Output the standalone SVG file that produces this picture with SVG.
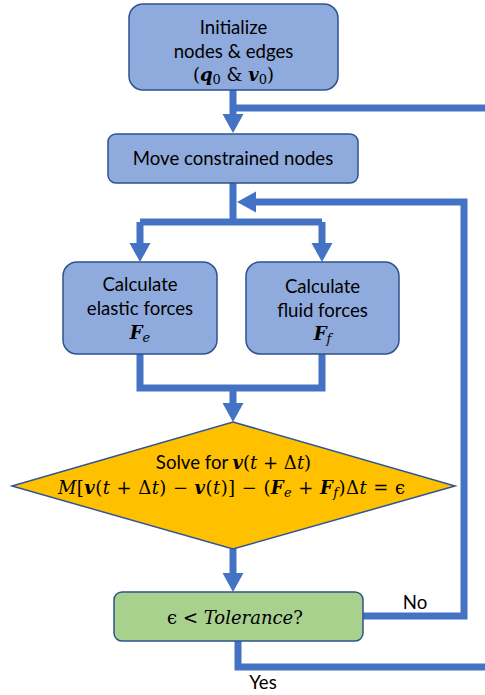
<svg xmlns="http://www.w3.org/2000/svg" width="485" height="695" viewBox="0 0 485 695">
<style>
.box{fill:#8FAADC;stroke:#2F528F;stroke-width:1.5}
.green{fill:#A9D18E;stroke:#2F528F;stroke-width:1.5}
.dia{fill:#FFC000;stroke:#2F5597;stroke-width:1.5}
.t{font-family:Lato,"Open Sans","Liberation Sans",sans-serif;font-size:18.6px;fill:#000;text-anchor:middle}
.m{font-family:"DejaVu Serif","Liberation Serif",serif;font-size:18px;fill:#000;text-anchor:middle}
.b{font-weight:bold;font-style:italic}
.i{font-style:italic}
.s{font-size:13px}
.ln{fill:none;stroke:#4472C4;stroke-width:7}
.ah{fill:#4472C4}
</style>
<g id="connectors">
<path class="ln" d="M233,90 V116 M233,108 H485"/>
<polygon class="ah" points="222.5,114 243.5,114 233,133"/>
<path class="ln" d="M233,183 V222 M140,222 H322 M140,222 V245 M322,222 V245"/>
<polygon class="ah" points="129.5,243 150.5,243 140,262"/>
<polygon class="ah" points="311.5,243 332.5,243 322,262"/>
<path class="ln" d="M363,616 H464 V202 H254"/>
<polygon class="ah" points="256,191.5 256,212.5 237,202"/>
<path class="ln" d="M140,354 V388 H322 V354 M233,388 V405"/>
<polygon class="ah" points="222.5,403 243.5,403 233,422"/>
<path class="ln" d="M233,549 V575"/>
<polygon class="ah" points="222.5,573 243.5,573 233,592"/>
<path class="ln" d="M238,641 V667 H485"/>
<text class="t" x="415" y="609">No</text>
<text class="t" x="263" y="689">Yes</text>
</g>
<g id="init">
<rect class="box" x="129" y="4" width="209" height="86" rx="14"/>
<text class="t" x="233.5" y="34">Initialize</text>
<text class="t" x="233.5" y="58">nodes &amp; edges</text>
<text class="m" x="233.5" y="81">(<tspan class="b">q</tspan><tspan class="s" dy="3">0</tspan><tspan dy="-3"> &amp; </tspan><tspan class="b">v</tspan><tspan class="s" dy="3">0</tspan><tspan dy="-3">)</tspan></text>
</g>
<g id="move">
<rect class="box" x="108" y="134" width="250" height="49" rx="8"/>
<text class="t" x="233" y="165">Move constrained nodes</text>
</g>
<g id="elastic">
<rect class="box" x="63" y="262" width="154" height="92" rx="14"/>
<text class="t" x="140" y="291">Calculate</text>
<text class="t" x="140" y="315">elastic forces</text>
<text class="m" x="140" y="339"><tspan class="b">F</tspan><tspan class="i s" dy="3">e</tspan></text>
</g>
<g id="fluid">
<rect class="box" x="246" y="262" width="153" height="92" rx="14"/>
<text class="t" x="322.5" y="293">Calculate</text>
<text class="t" x="322.5" y="317">fluid forces</text>
<text class="m" x="322.5" y="340"><tspan class="b">F</tspan><tspan class="i s" dy="3">f</tspan></text>
</g>
<g id="solve">
<polygon class="dia" points="233,422 455,486 233,549 12,486"/>
<text class="m" x="233.5" y="469"><tspan font-family="Lato,'Open Sans',sans-serif" font-size="18.6">Solve for </tspan><tspan class="b">v</tspan>(<tspan class="i">t</tspan> + Δ<tspan class="i">t</tspan>)</text>
<text class="m" x="231.5" y="494" textLength="347" lengthAdjust="spacing"><tspan class="i">M</tspan>[<tspan class="b">v</tspan>(<tspan class="i">t</tspan> + Δ<tspan class="i">t</tspan>) − <tspan class="b">v</tspan>(<tspan class="i">t</tspan>)] − (<tspan class="b">F</tspan><tspan class="i s" dy="3">e</tspan><tspan dy="-3"> + </tspan><tspan class="b">F</tspan><tspan class="i s" dy="3">f</tspan><tspan dy="-3">)Δ</tspan><tspan class="i">t</tspan> =  ϵ</text>
</g>
<g id="tolerance">
<rect class="green" x="114" y="592" width="249" height="49" rx="8"/>
<text class="m" x="235" y="624">ϵ &lt; <tspan class="i">Tolerance</tspan>?</text>
</g>
</svg>
